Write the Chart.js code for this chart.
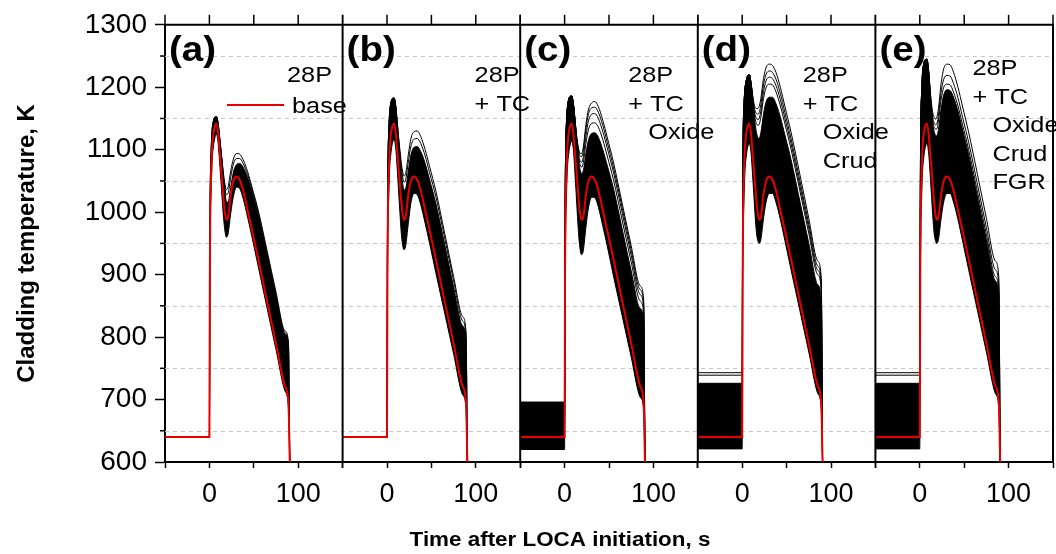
<!DOCTYPE html>
<html>
<head>
<meta charset="utf-8">
<script src="https://cdn.jsdelivr.net/npm/chart.js@4.4.1/dist/chart.umd.min.js"></script>
<style>
  html, body { margin: 0; padding: 0; background: #fff; }
  #wrap { width: 1056px; height: 554px; }
</style>
</head>
<body>
<div id="wrap"><canvas id="chart" width="1056" height="554"></canvas></div>
<script>
// time after LOCA initiation (s), shared by every curve
const timeS = [-50, 0, 0.5, 1, 2, 3, 4.5, 6, 8, 10, 11.5, 13, 14.5, 16, 17.5, 19, 21, 24, 27, 30.5, 34, 38, 43, 48, 55, 65, 75, 85, 89, 90.5];

// red base case (same in all panels)
const baseT = [640, 640, 900, 1000, 1060, 1100, 1126, 1137, 1142, 1125, 1098, 1072, 1045, 1018, 998, 988, 992, 1028, 1050, 1057, 1052, 1035, 1003, 971, 925, 857, 790, 722, 694, 600];

// (a) 28P
const lowA  = [640, 640, 880, 975, 1035, 1080, 1105, 1118, 1125, 1108, 1080, 1050, 1018, 990, 970, 960, 965, 998, 1025, 1040, 1038, 1022, 992, 960, 913, 846, 780, 714, 688, 600];
const highA = [640, 640, 930, 1040, 1100, 1130, 1146, 1152, 1153, 1140, 1120, 1098, 1075, 1052, 1033, 1018, 1016, 1040, 1064, 1076, 1078, 1072, 1055, 1032, 995, 930, 865, 805, 785, 600];
const outerA = [
  [640, 640, 930, 1040, 1100, 1130, 1146, 1152, 1153, 1140, 1120, 1100, 1080, 1060, 1045, 1036, 1040, 1066, 1085, 1094, 1093, 1084, 1065, 1040, 1003, 938, 872, 810, 792, 600],
  [640, 640, 930, 1040, 1100, 1130, 1146, 1152, 1153, 1140, 1120, 1099, 1078, 1056, 1040, 1028, 1030, 1056, 1077, 1086, 1086, 1078, 1060, 1036, 999, 934, 868, 807, 788, 600]
];

// (b) 28P + TC
const lowB  = [640, 640, 870, 965, 1025, 1070, 1095, 1110, 1116, 1100, 1070, 1035, 1000, 968, 948, 940, 946, 982, 1015, 1030, 1028, 1012, 982, 950, 903, 838, 773, 708, 686, 600];
const highB = [640, 640, 950, 1070, 1130, 1160, 1176, 1182, 1183, 1168, 1142, 1115, 1090, 1066, 1048, 1036, 1038, 1066, 1092, 1104, 1105, 1097, 1078, 1052, 1014, 948, 880, 818, 796, 600];
const outerB = [
  [640, 640, 950, 1070, 1130, 1160, 1176, 1182, 1183, 1168, 1145, 1122, 1100, 1080, 1066, 1058, 1062, 1092, 1118, 1129, 1130, 1121, 1100, 1073, 1034, 966, 897, 833, 808, 600],
  [640, 640, 950, 1070, 1130, 1160, 1176, 1182, 1183, 1168, 1144, 1118, 1095, 1074, 1058, 1048, 1052, 1080, 1106, 1117, 1118, 1110, 1090, 1063, 1025, 958, 890, 826, 802, 600]
];

// (c) 28P + TC + Oxide
const lowC  = [620, 620, 860, 955, 1020, 1065, 1092, 1106, 1114, 1098, 1066, 1030, 993, 960, 940, 932, 938, 976, 1008, 1024, 1023, 1008, 978, 946, 898, 833, 768, 704, 684, 600];
const highC = [696, 696, 960, 1080, 1140, 1165, 1180, 1185, 1186, 1172, 1150, 1124, 1100, 1080, 1068, 1062, 1066, 1094, 1116, 1126, 1127, 1120, 1100, 1075, 1038, 972, 906, 846, 828, 600];
const outerC = [
  [690, 690, 960, 1080, 1140, 1165, 1180, 1185, 1186, 1172, 1152, 1130, 1112, 1100, 1094, 1094, 1104, 1140, 1165, 1175, 1177, 1169, 1147, 1120, 1080, 1013, 946, 882, 860, 600],
  [680, 680, 960, 1080, 1140, 1165, 1180, 1185, 1186, 1172, 1151, 1128, 1110, 1097, 1090, 1089, 1098, 1133, 1158, 1167, 1168, 1160, 1139, 1112, 1072, 1006, 939, 876, 855, 600],
  [670, 670, 960, 1080, 1140, 1165, 1180, 1185, 1186, 1172, 1150, 1126, 1106, 1091, 1082, 1080, 1088, 1122, 1147, 1157, 1158, 1150, 1129, 1103, 1064, 998, 931, 868, 848, 600],
  [660, 660, 960, 1080, 1140, 1165, 1180, 1185, 1186, 1172, 1150, 1125, 1103, 1086, 1076, 1072, 1079, 1110, 1133, 1142, 1143, 1136, 1116, 1090, 1052, 986, 920, 858, 838, 600]
];

// (d) 28P + TC + Oxide + Crud
const lowD  = [621, 621, 850, 950, 1018, 1062, 1088, 1103, 1110, 1094, 1064, 1030, 996, 968, 955, 950, 956, 990, 1017, 1030, 1030, 1016, 988, 955, 908, 842, 776, 710, 686, 600];
const highD = [726, 726, 990, 1110, 1168, 1195, 1210, 1218, 1220, 1206, 1186, 1162, 1142, 1128, 1120, 1118, 1127, 1157, 1177, 1184, 1184, 1174, 1152, 1124, 1084, 1017, 950, 884, 858, 600];
const outerD = [
  [743, 743, 1000, 1115, 1172, 1196, 1210, 1218, 1220, 1206, 1190, 1176, 1168, 1166, 1166, 1169, 1182, 1214, 1232, 1237, 1235, 1224, 1200, 1170, 1128, 1060, 990, 922, 895, 600],
  [739, 739, 1000, 1115, 1172, 1196, 1210, 1218, 1220, 1206, 1188, 1172, 1162, 1158, 1157, 1159, 1172, 1204, 1221, 1226, 1224, 1213, 1190, 1160, 1118, 1050, 981, 914, 888, 600],
  [720, 720, 990, 1110, 1168, 1195, 1210, 1218, 1220, 1206, 1186, 1168, 1156, 1150, 1148, 1150, 1162, 1193, 1211, 1216, 1214, 1203, 1180, 1151, 1110, 1042, 974, 907, 882, 600],
  [710, 710, 990, 1110, 1168, 1195, 1210, 1218, 1220, 1206, 1186, 1165, 1150, 1142, 1139, 1140, 1152, 1182, 1200, 1205, 1204, 1193, 1170, 1142, 1101, 1034, 966, 900, 875, 600]
];

// (e) 28P + TC + Oxide + Crud + FGR
const lowE  = [621, 621, 850, 950, 1018, 1062, 1088, 1103, 1110, 1094, 1064, 1030, 996, 968, 955, 950, 956, 990, 1017, 1030, 1030, 1016, 988, 955, 908, 842, 776, 710, 686, 600];
const highE = [726, 726, 1000, 1130, 1190, 1222, 1238, 1244, 1245, 1225, 1195, 1165, 1142, 1130, 1124, 1122, 1132, 1165, 1188, 1196, 1195, 1184, 1162, 1133, 1092, 1024, 956, 890, 864, 600];
const outerE = [
  [743, 743, 1000, 1130, 1190, 1222, 1238, 1244, 1245, 1225, 1198, 1176, 1160, 1152, 1149, 1151, 1166, 1206, 1230, 1237, 1236, 1224, 1200, 1170, 1128, 1060, 990, 922, 895, 600],
  [739, 739, 1000, 1130, 1190, 1222, 1238, 1244, 1245, 1225, 1196, 1170, 1152, 1143, 1140, 1141, 1155, 1192, 1213, 1219, 1218, 1206, 1183, 1153, 1112, 1044, 975, 908, 882, 600],
  [715, 715, 1000, 1130, 1190, 1222, 1238, 1244, 1245, 1225, 1195, 1167, 1147, 1137, 1133, 1133, 1146, 1180, 1200, 1205, 1204, 1192, 1170, 1141, 1100, 1032, 964, 897, 872, 600]
];

const panelLabels = ['(a)', '(b)', '(c)', '(d)', '(e)'];
const panelNotes = [
  ['28P', 'base'],
  ['28P', '+ TC'],
  ['28P', '+ TC', 'Oxide'],
  ['28P', '+ TC', 'Oxide', 'Crud'],
  ['28P', '+ TC', 'Oxide', 'Crud', 'FGR']
];
const xTickLabels = [0, 100];
const gridTemps = [650, 750, 850, 950, 1050, 1150, 1250];

const panels = [
  {low: lowA, high: highA, outer: outerA},
  {low: lowB, high: highB, outer: outerB},
  {low: lowC, high: highC, outer: outerC},
  {low: lowD, high: highD, outer: outerD},
  {low: lowE, high: highE, outer: outerE}
];

const FONT = "'Liberation Sans', Arial, sans-serif";
const RED = 'rgb(232,0,0)';
Chart.defaults.font.family = FONT;
Chart.defaults.color = '#000';

function pts(arr) {
    return timeS.map((t, i) => ({x: t, y: arr[i]}));
}

const datasets = [];
const scales = {};

// lower "order" is drawn on top: base red above everything
panels.forEach((p, i) => {
    const xAxisID = 'x' + i;
    datasets.push({data: pts(p.low), xAxisID, borderColor: '#000', borderWidth: 1, fill: false, order: 3});
    datasets.push({data: pts(p.high), xAxisID, borderColor: '#000', borderWidth: 1, backgroundColor: '#000', fill: '-1', order: 2});
    for (const o of p.outer) {
        datasets.push({data: pts(o), xAxisID, borderColor: '#000', borderWidth: 1, fill: false, order: 1});
    }
    datasets.push({data: pts(baseT), xAxisID, borderColor: RED, borderWidth: 2, fill: false, order: 0});

    scales[xAxisID] = {
        type: 'linear',
        position: 'bottom',
        stack: 'panels',
        stackWeight: 1,
        min: -50,
        max: 150,
        ticks: {
            stepSize: 50, autoSkip: false, maxRotation: 0, padding: 10,
            font: {size: 27},
            callback: v => xTickLabels.includes(v) ? String(v) : ''
        },
        grid: {drawOnChartArea: false, tickLength: 6, tickColor: '#000', tickWidth: 1.5},
        border: {color: '#000', width: 2},
        afterFit: s => {
            s.height = 92;
            s.paddingLeft = 0;
            s.paddingRight = 0;
        }
    };
});

scales.y = {
    type: 'linear',
    position: 'left',
    min: 600,
    max: 1300,
    ticks: {stepSize: 100, font: {size: 28}, padding: 8, callback: v => String(v)},
    grid: {drawOnChartArea: false, tickLength: 10, tickColor: '#000', tickWidth: 1.5},
    border: {color: '#000', width: 2},
    title: {display: true, text: 'Cladding temperature, K', font: {size: 24, weight: 'bold'}, padding: {top: 13, bottom: 0}},
    afterFit: s => { s.width = 165; }
};

function stretchText(ctx, text, x, y, font, sx) {
    ctx.save();
    ctx.font = font;
    ctx.translate(x, y);
    ctx.scale(sx, 1);
    ctx.fillText(text, 0, 0);
    ctx.restore();
}

const framePlugin = {
    id: 'frame',
    beforeDatasetsDraw(chart) {
        const {ctx, chartArea: a} = chart;
        const ys = chart.scales.y;
        ctx.save();
        ctx.strokeStyle = '#c8c8c8';
        ctx.lineWidth = 1;
        ctx.setLineDash([4, 4]);
        for (const v of gridTemps) {
            const y = Math.round(ys.getPixelForValue(v)) + 0.5;
            ctx.beginPath();
            ctx.moveTo(a.left, y);
            ctx.lineTo(a.right, y);
            ctx.stroke();
        }
        ctx.restore();
    },
    afterDatasetsDraw(chart) {
        const {ctx, chartArea: a} = chart;
        const ys = chart.scales.y;
        ctx.save();
        ctx.strokeStyle = '#000';

        // top border, right border
        ctx.lineWidth = 2;
        ctx.beginPath();
        ctx.moveTo(a.left, a.top);
        ctx.lineTo(a.right, a.top);
        ctx.lineTo(a.right, a.bottom);
        ctx.stroke();

        // minor y ticks
        ctx.lineWidth = 1.5;
        for (const v of gridTemps) {
            const y = ys.getPixelForValue(v);
            ctx.beginPath();
            ctx.moveTo(a.left - 5, y);
            ctx.lineTo(a.left, y);
            ctx.stroke();
        }

        panels.forEach((p, i) => {
            const xs = chart.scales['x' + i];
            // panel divider
            if (i > 0) {
                ctx.lineWidth = 2;
                ctx.beginPath();
                ctx.moveTo(xs.left, a.top);
                ctx.lineTo(xs.left, a.bottom);
                ctx.stroke();
            }
            // top ticks
            ctx.lineWidth = 1.5;
            for (const t of xs.ticks) {
                const x = xs.getPixelForValue(t.value);
                ctx.beginPath();
                ctx.moveTo(x, a.top);
                ctx.lineTo(x, a.top - 10);
                ctx.stroke();
            }

            ctx.fillStyle = '#000';
            ctx.textBaseline = 'alphabetic';
            ctx.textAlign = 'left';
            stretchText(ctx, panelLabels[i], xs.left + 4, 61, 'bold 35px ' + FONT, 1.1);

            const noteX = [122, 132, 108, 105, 97][i];
            const top = i === 4 ? 75 : 82;
            panelNotes[i].forEach((txt, k) => {
                const f = '22px ' + FONT;
                if (i === 0 && k === 1) {
                    ctx.strokeStyle = RED;
                    ctx.lineWidth = 2;
                    ctx.beginPath();
                    ctx.moveTo(xs.left + 62, 105);
                    ctx.lineTo(xs.left + 119, 105);
                    ctx.stroke();
                    ctx.strokeStyle = '#000';
                    stretchText(ctx, txt, xs.left + 127, 113, f, 1.15);
                    return;
                }
                const dx = k >= 2 ? 20 : 0;
                stretchText(ctx, txt, xs.left + noteX + dx, top + k * 28.5, f, 1.15);
            });
        });

        // x axis title
        ctx.textAlign = 'center';
        stretchText(ctx, 'Time after LOCA initiation, s', 560, 546, 'bold 20px ' + FONT, 1.12);
        ctx.restore();
    }
};

new Chart(document.getElementById('chart'), {
    type: 'line',
    data: {datasets},
    options: {
        responsive: false,
        animation: false,
        devicePixelRatio: 1,
        layout: {padding: {top: 24, right: 3, left: 0, bottom: 0}},
        elements: {
            point: {radius: 0},
            line: {cubicInterpolationMode: 'monotone'}
        },
        plugins: {legend: {display: false}, tooltip: {enabled: false}},
        scales
    },
    plugins: [framePlugin]
});
</script>
</body>
</html>
